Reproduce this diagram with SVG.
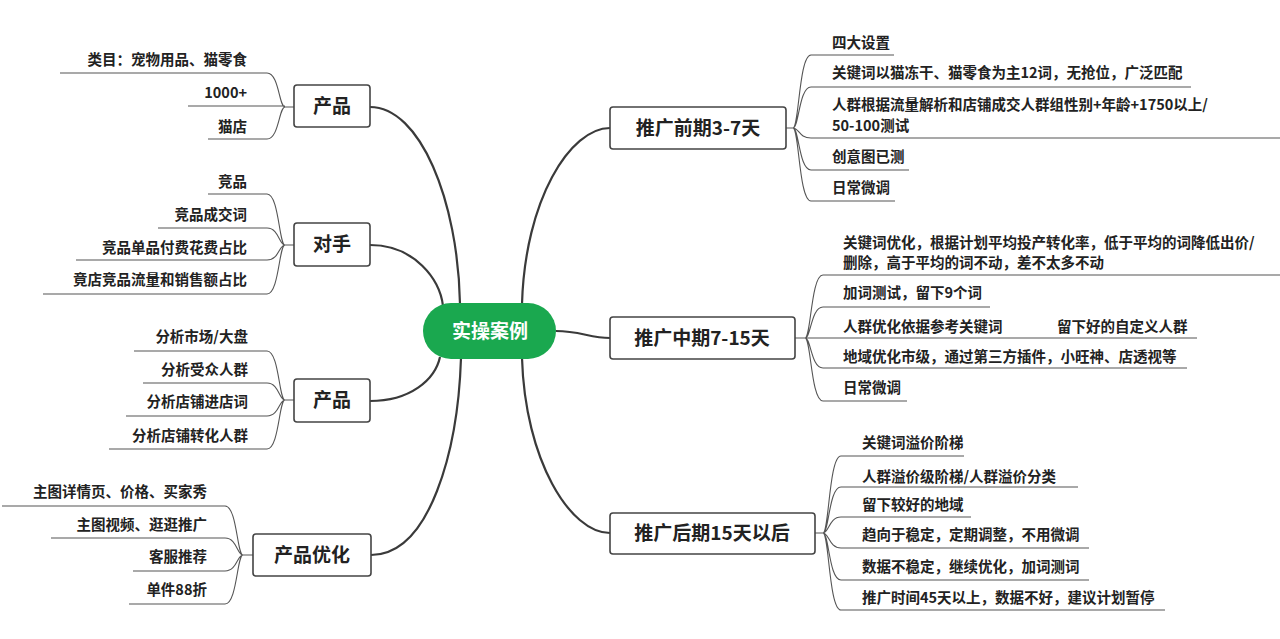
<svg xmlns="http://www.w3.org/2000/svg" width="1280" height="639" viewBox="0 0 1280 639">
<style>
.bg{fill:#fff}
.main{fill:none;stroke:#3a3a3a;stroke-width:2.2}
.leafl{fill:none;stroke:#555;stroke-width:1.1}
.box{fill:#fff;stroke:#444;stroke-width:1.6}
.bt{font-family:"Noto Sans CJK SC","Liberation Sans",sans-serif;font-size:19px;font-weight:700;fill:#222;text-anchor:middle}
.lt{font-family:"Noto Sans CJK SC","Liberation Sans",sans-serif;font-size:14.5px;font-weight:600;fill:#222}
.r{text-anchor:end}
.ct{font-family:"Noto Sans CJK SC","Liberation Sans",sans-serif;font-size:19px;font-weight:700;fill:#fff;text-anchor:middle}
</style>
<rect class="bg" width="1280" height="639"/>
<g id="connectors">
<path class="main" d="M370,107 C420,107 458,200 460,304"/>
<path class="main" d="M370,245 C415,245 440,280 443,306"/>
<path class="main" d="M370,401 C410,401 435,380 440,357"/>
<path class="main" d="M371,555 C430,555 458,450 461,358"/>
<path class="main" d="M522,304 C525,200 570,128 610,128"/>
<path class="main" d="M556,331 C580,331 590,338 610,338"/>
<path class="main" d="M522,358 C525,460 570,533 610,533"/>
<!-- left leaves 产品 -->
<path class="leafl" d="M294,107H285 M60,73H267 C279,73 279,107 285,107 M188,106H285 M208,139H267 C279,139 279,107 285,107"/>
<!-- 对手 -->
<path class="leafl" d="M294,245H285 M208,194H267 C279,194 279,245 285,245 M158,228H267 C279,228 279,245 285,245 M76,260H267 C279,260 279,245 285,245 M43,294H267 C279,294 279,245 285,245"/>
<!-- 产品3 -->
<path class="leafl" d="M294,400H285 M134,351H267 C279,351 279,400 285,400 M143,383H267 C279,383 279,400 285,400 M126,416H267 C279,416 279,400 285,400 M109,449H267 C279,449 279,400 285,400"/>
<!-- 产品优化 -->
<path class="leafl" d="M253,555H243 M2,506H225 C237,506 237,555 243,555 M51,538H225 C237,538 237,555 243,555 M133,571H225 C237,571 237,555 243,555 M129,604H225 C237,604 237,555 243,555"/>
<!-- 前期 -->
<path class="leafl" d="M786,128H793 M793,128 C799,128 799,55 811,55H894 M793,128 C799,128 799,87 811,87H1191 M793,128 C799,128 799,138 811,138H1280 M793,128 C799,128 799,170 811,170H909 M793,128 C799,128 799,201 811,201H895"/>
<!-- 中期 -->
<path class="leafl" d="M795,338H805 M805,338 C811,338 811,275 823,275H1280 M805,338 C811,338 811,307 823,307H990 M805,338 H1197 M805,338 C811,338 811,368 823,368H1187 M805,338 C811,338 811,401 823,401H907"/>
<!-- 后期 -->
<path class="leafl" d="M815,533H823 M823,533 C829,533 829,456 841,456H964 M823,533 C829,533 829,487 841,487H1078 M823,533 C829,533 829,517 841,517H971 M823,533 C829,533 829,548 841,548H1089 M823,533 C829,533 829,580 841,580H1089 M823,533 C829,533 829,610 841,610H1165"/>
</g>
<g id="center"><rect x="423" y="303" width="133" height="56" rx="28" fill="#1aa84f"/><text class="ct" x="490" y="338">实操案例</text></g>
<g id="n-product1"><rect class="box" x="294" y="85" width="76" height="42" rx="3"/><text class="bt" x="332" y="113">产品</text>
<text class="lt r" x="247" y="65">类目：宠物用品、猫零食</text><text class="lt r" x="247" y="98">1000+</text><text class="lt r" x="247" y="132">猫店</text></g>
<g id="n-rival"><rect class="box" x="294" y="223" width="76" height="43" rx="3"/><text class="bt" x="332" y="251">对手</text>
<text class="lt r" x="247" y="187">竞品</text><text class="lt r" x="247" y="220">竞品成交词</text><text class="lt r" x="247" y="253">竞品单品付费花费占比</text><text class="lt r" x="247" y="285">竟店竞品流量和销售额占比</text></g>
<g id="n-product2"><rect class="box" x="294" y="379" width="76" height="43" rx="3"/><text class="bt" x="332" y="407">产品</text>
<text class="lt r" x="248" y="342">分析市场/大盘</text><text class="lt r" x="248" y="375">分析受众人群</text><text class="lt r" x="248" y="407">分析店铺进店词</text><text class="lt r" x="248" y="441">分析店铺转化人群</text></g>
<g id="n-optimize"><rect class="box" x="253" y="534" width="118" height="42" rx="3"/><text class="bt" x="312" y="562">产品优化</text>
<text class="lt r" x="207" y="497">主图详情页、价格、买家秀</text><text class="lt r" x="207" y="530">主图视频、逛逛推广</text><text class="lt r" x="207" y="562">客服推荐</text><text class="lt r" x="207" y="595">单件88折</text></g>
<g id="n-early"><rect class="box" x="610" y="107" width="176" height="42" rx="3"/><text class="bt" x="698" y="135">推广前期3-7天</text>
<text class="lt" x="832" y="48">四大设置</text><text class="lt" x="832" y="78">关键词以猫冻干、猫零食为主12词，无抢位，广泛匹配</text><text class="lt" x="832" y="110">人群根据流量解析和店铺成交人群组性别+年龄+1750以上/</text><text class="lt" x="832" y="131">50-100测试</text><text class="lt" x="832" y="162">创意图已测</text><text class="lt" x="832" y="193">日常微调</text></g>
<g id="n-mid"><rect class="box" x="610" y="317" width="185" height="42" rx="3"/><text class="bt" x="702" y="345">推广中期7-15天</text>
<text class="lt" x="843" y="248">关键词优化，根据计划平均投产转化率，低于平均的词降低出价/</text><text class="lt" x="843" y="268">删除，高于平均的词不动，差不太多不动</text><text class="lt" x="843" y="298">加词测试，留下9个词</text><text class="lt" x="843" y="332">人群优化依据参考关键词</text><text class="lt" x="1057" y="332">留下好的自定义人群</text><text class="lt" x="843" y="362">地域优化市级，通过第三方插件，小旺神、店透视等</text><text class="lt" x="843" y="393">日常微调</text></g>
<g id="n-late"><rect class="box" x="610" y="513" width="205" height="41" rx="3"/><text class="bt" x="712" y="540">推广后期15天以后</text>
<text class="lt" x="862" y="448">关键词溢价阶梯</text><text class="lt" x="862" y="482">人群溢价级阶梯/人群溢价分类</text><text class="lt" x="862" y="510">留下较好的地域</text><text class="lt" x="862" y="540">趋向于稳定，定期调整，不用微调</text><text class="lt" x="862" y="572">数据不稳定，继续优化，加词测词</text><text class="lt" x="862" y="603">推广时间45天以上，数据不好，建议计划暂停</text></g>
</svg>
